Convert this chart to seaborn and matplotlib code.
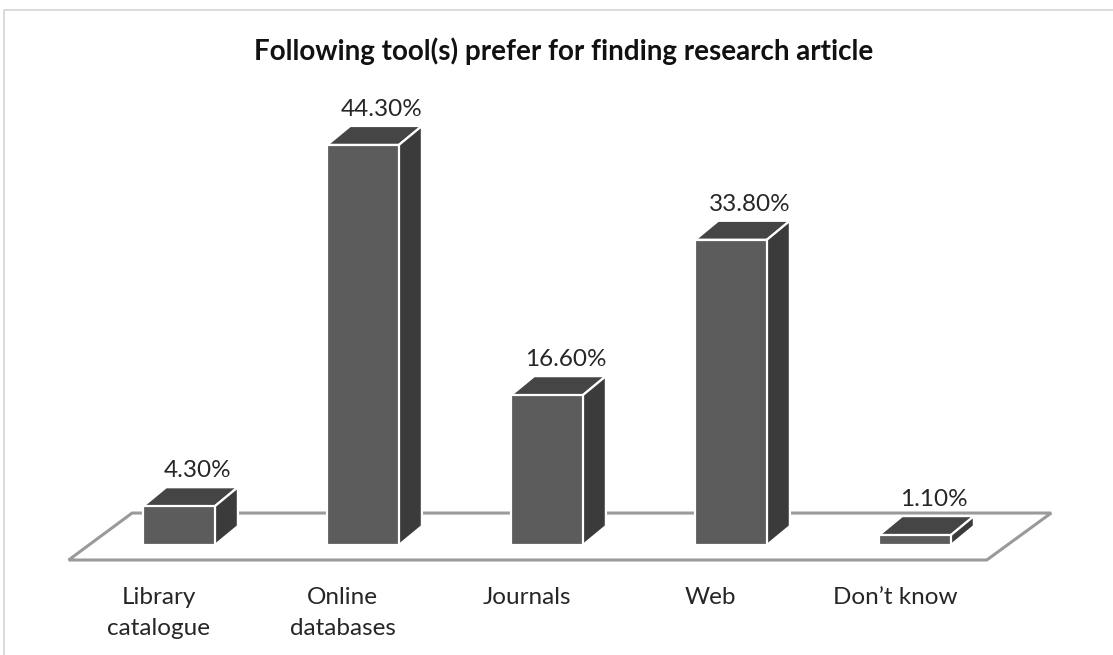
import matplotlib
matplotlib.use("Agg")
import matplotlib.pyplot as plt
from matplotlib.patches import Polygon, Rectangle
import seaborn as sns
import pandas as pd

categories = ["Library\ncatalogue", "Online\ndatabases", "Journals", "Web", "Don\u2019t know"]
values = [4.3, 44.3, 16.6, 33.8, 1.1]
value_labels = ["4.30%", "44.30%", "16.60%", "33.80%", "1.10%"]
title = "Following tool(s) prefer for finding research article"

FRONT = "#5c5c5c"
TOP = "#454545"
SIDE = "#3b3b3b"
TEXT = "#262626"
FLOOR_EDGE = "#9a9a9a"

sns.set_theme(style="white")
plt.rcParams["font.family"] = ["Lato", "DejaVu Sans"]

df = pd.DataFrame({"tool": categories, "pct": values})

fig = plt.figure(figsize=(11.13, 6.55), dpi=100)
fig.patch.set_facecolor("white")
ax = fig.add_axes([0, 0, 1, 1])

# depth offset of the pseudo-3D boxes (category units, percent units)
DX, DY = 0.125, 2.1

sns.barplot(data=df, x="tool", y="pct", width=0.39, color=FRONT,
            saturation=1, edgecolor="white", linewidth=1.6, ax=ax, zorder=3)
bars = [p for p in ax.patches if isinstance(p, Rectangle)]

# floor plate
floor = Polygon([(-0.60, -1.66), (4.39, -1.66), (4.74, 3.54), (-0.255, 3.54)],
                closed=True, facecolor="white", edgecolor=FLOOR_EDGE,
                linewidth=2.2, zorder=1)
ax.add_patch(floor)

for bar, lab in zip(bars, value_labels):
    x0 = bar.get_x()
    x1 = x0 + bar.get_width()
    v = bar.get_height()
    top = Polygon([(x0, v), (x0 + DX, v + DY), (x1 + DX, v + DY), (x1, v)],
                  closed=True, facecolor=TOP, edgecolor="white",
                  linewidth=1.6, zorder=2.9)
    side = Polygon([(x1, 0), (x1 + DX, DY), (x1 + DX, v + DY), (x1, v)],
                   closed=True, facecolor=SIDE, edgecolor="white",
                   linewidth=1.6, zorder=2.9)
    ax.add_patch(top)
    ax.add_patch(side)
    ax.text((x0 + x1) / 2 + 0.1, v + DY + 1.8, lab, ha="center", va="center",
            fontsize=17.5, color=TEXT, zorder=5)

ax.set_xlim(-0.973, 5.076)
ax.set_ylim(-12.18, 60.35)
ax.set_xlabel("")
ax.set_ylabel("")
ax.set_yticks([])
ax.tick_params(axis="x", length=0, pad=0)
ax.set_xticks(range(len(categories)))
ax.set_xticklabels([])
# category names sit centred under the front edge of the floor
for i, c in enumerate(categories):
    ax.text(i - 0.11, -4.65, c, ha="center", va="top", fontsize=17.5,
            color=TEXT, linespacing=1.58)
for s in ax.spines.values():
    s.set_visible(False)
ax.set_facecolor("white")

fig.text(0.506, 0.922, title, ha="center", va="center", fontsize=20,
         fontweight="bold", color="#111111")

# chart frame
fig.patches.append(Rectangle((4 / 1113, -0.1), 1.2, (655 - 10) / 655 + 0.1,
                             transform=fig.transFigure, fill=False,
                             edgecolor="#d4d4d4", linewidth=1.2))

fig.savefig("out.png", dpi=100)
